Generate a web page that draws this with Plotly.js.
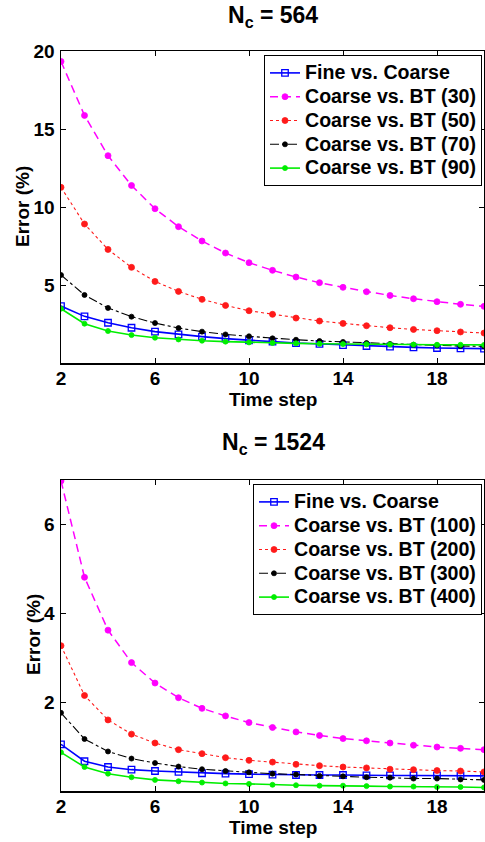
<!DOCTYPE html>
<html><head><meta charset="utf-8">
<script src="https://cdn.plot.ly/plotly-3.0.1.min.js"></script>
<style>html,body{margin:0;padding:0;background:#fff}</style>
</head><body><div id="plot" style="width:485px;height:842px"></div>
<script>
const timeSteps = [2,3,4,5,6,7,8,9,10,11,12,13,14,15,16,17,18,19,20];
const xTicks = [2,6,10,14,18];

// Top panel: N_c = 564
const topFine = [3.65,2.99,2.58,2.26,2.01,1.83,1.69,1.56,1.45,1.37,1.28,1.22,1.15,1.09,1.05,1.00,0.96,0.94,0.92];
const topBT30 = [19.33,15.87,13.29,11.38,9.89,8.74,7.82,7.05,6.43,5.94,5.51,5.15,4.85,4.57,4.33,4.12,3.93,3.76,3.63];
const topBT50 = [11.26,8.91,7.28,6.13,5.23,4.59,4.08,3.69,3.35,3.12,2.88,2.69,2.54,2.39,2.26,2.15,2.07,1.99,1.92];
const topBT70 = [5.64,4.36,3.53,2.97,2.56,2.24,2.01,1.83,1.71,1.58,1.49,1.41,1.35,1.28,1.22,1.17,1.13,1.09,1.07];
const topBT90 = [3.48,2.52,2.05,1.79,1.62,1.51,1.43,1.37,1.32,1.28,1.26,1.23,1.21,1.20,1.19,1.18,1.17,1.17,1.16];
const topNames = ["Fine vs. Coarse","Coarse vs. BT (30)","Coarse vs. BT (50)","Coarse vs. BT (70)","Coarse vs. BT (90)"];
const topYTicks = [5,10,15,20];

// Bottom panel: N_c = 1524
const botFine = [1.05,0.67,0.54,0.48,0.45,0.43,0.40,0.39,0.38,0.37,0.36,0.36,0.36,0.35,0.35,0.35,0.35,0.34,0.34];
const botBT100 = [6.98,4.81,3.62,2.89,2.43,2.10,1.86,1.69,1.54,1.43,1.33,1.25,1.18,1.13,1.08,1.03,0.99,0.96,0.93];
const botBT200 = [3.27,2.15,1.60,1.28,1.08,0.93,0.84,0.75,0.69,0.65,0.60,0.57,0.54,0.52,0.49,0.48,0.46,0.45,0.43];
const botBT300 = [1.76,1.17,0.89,0.73,0.63,0.55,0.49,0.45,0.42,0.39,0.37,0.34,0.33,0.31,0.30,0.28,0.28,0.26,0.25];
const botBT400 = [0.87,0.54,0.39,0.31,0.25,0.22,0.19,0.17,0.16,0.14,0.13,0.12,0.12,0.11,0.10,0.10,0.09,0.09,0.08];
const botNames = ["Fine vs. Coarse","Coarse vs. BT (100)","Coarse vs. BT (200)","Coarse vs. BT (300)","Coarse vs. BT (400)"];
const botYTicks = [2,4,6];

const titles = ["N<sub>c</sub> = 564","N<sub>c</sub> = 1524"];
const xTitle = "Time step";
const yTitle = "Error (%)";

const W = 485, H = 842;
const px = x => x / W;
const py = y => 1 - y / H;
const FONT = "Liberation Sans, Arial, Helvetica, sans-serif";

const styles = [
  {color:"#0000ff", dash:"solid", width:1.6, symbol:"square-open", size:6.5, lw:1.3},
  {color:"#ff00ff", dash:"8px,5px", width:1.5, symbol:"circle", size:6, lw:0.8},
  {color:"#ff1a1a", dash:"dot", width:1.1, symbol:"circle", size:6, lw:0.8},
  {color:"#000000", dash:"dashdot", width:1.1, symbol:"circle", size:5, lw:0.8},
  {color:"#00ee00", dash:"solid", width:1.6, symbol:"circle", size:5, lw:0.8}
];

function mk(ys, names, xa, ya, leg) {
  return ys.map((y, i) => ({
    x: timeSteps, y: y, name: '<span style="font-size:19.6px">' + names[i] + '</span>',
    type: "scatter", mode: "lines+markers",
    xaxis: xa, yaxis: ya, legend: leg,
    line: {color: styles[i].color, dash: styles[i].dash, width: styles[i].width},
    marker: {color: styles[i].color, symbol: styles[i].symbol, size: styles[i].size,
             line: {color: styles[i].color, width: styles[i].lw}}
  }));
}

const data = [
  ...mk([topFine, topBT30, topBT50, topBT70, topBT90], topNames, "x", "y", "legend"),
  ...mk([botFine, botBT100, botBT200, botBT300, botBT400], botNames, "x2", "y2", "legend2")
];

const tickFont = {family: FONT, size: 19, color: "#000", weight: "bold"};
function xax(anchor, dom) {
  return {domain: dom, anchor: anchor, range: [2, 20], tickvals: xTicks, ticks: "inside",
    ticklen: 5, tickwidth: 1, tickcolor: "#000", showline: true, linecolor: "#000", linewidth: 1.5,
    mirror: "ticks", showgrid: false, zeroline: false, tickfont: tickFont, ticklabelstandoff: -2};
}
function yax(anchor, dom, range, tv) {
  return {domain: dom, anchor: anchor, range: range, tickvals: tv, ticks: "inside",
    ticklen: 5, tickwidth: 1, tickcolor: "#000", showline: true, linecolor: "#000", linewidth: 1.5,
    mirror: "ticks", showgrid: false, zeroline: false, tickfont: tickFont, ticklabelstandoff: 1};
}
const legFont = {family: FONT, size: 16, color: "#000", weight: "bold"};

const layout = {
  width: W, height: H, margin: {l: 0, r: 0, t: 0, b: 0},
  paper_bgcolor: "#fff", plot_bgcolor: "#fff", showlegend: true,
  xaxis: xax("y", [px(61), px(484)]),
  yaxis: yax("x", [py(363), py(51)], [0, 20], topYTicks),
  xaxis2: xax("y2", [px(61), px(484)]),
  yaxis2: yax("x2", [py(791), py(480)], [0, 7], botYTicks),
  legend: {x: px(482), y: py(55), xanchor: "right", yanchor: "top", bgcolor: "#fff",
    bordercolor: "#000", borderwidth: 1, font: legFont, tracegroupgap: 0, itemwidth: 30},
  legend2: {x: px(482), y: py(484), xanchor: "right", yanchor: "top", bgcolor: "#fff",
    bordercolor: "#000", borderwidth: 1, font: legFont, tracegroupgap: 0, itemwidth: 30},
  annotations: [
    {text: titles[0], x: px(273), y: py(17), xref: "paper", yref: "paper", showarrow: false,
     xanchor: "center", yanchor: "middle", font: {family: FONT, size: 23, weight: "bold", color: "#000"}},
    {text: titles[1], x: px(273), y: py(443), xref: "paper", yref: "paper", showarrow: false,
     xanchor: "center", yanchor: "middle", font: {family: FONT, size: 23, weight: "bold", color: "#000"}},
    {text: xTitle, x: px(273), y: py(399), xref: "paper", yref: "paper", showarrow: false,
     xanchor: "center", yanchor: "middle", font: {family: FONT, size: 19, weight: "bold", color: "#000"}},
    {text: xTitle, x: px(273), y: py(827), xref: "paper", yref: "paper", showarrow: false,
     xanchor: "center", yanchor: "middle", font: {family: FONT, size: 19, weight: "bold", color: "#000"}},
    {text: yTitle, x: px(22), y: py(207), xref: "paper", yref: "paper", showarrow: false, textangle: -90,
     xanchor: "center", yanchor: "middle", font: {family: FONT, size: 19, weight: "bold", color: "#000"}},
    {text: yTitle, x: px(33), y: py(635), xref: "paper", yref: "paper", showarrow: false, textangle: -90,
     xanchor: "center", yanchor: "middle", font: {family: FONT, size: 19, weight: "bold", color: "#000"}}
  ]
};

Plotly.newPlot("plot", data, layout, {displayModeBar: false, staticPlot: true});
</script></body></html>
